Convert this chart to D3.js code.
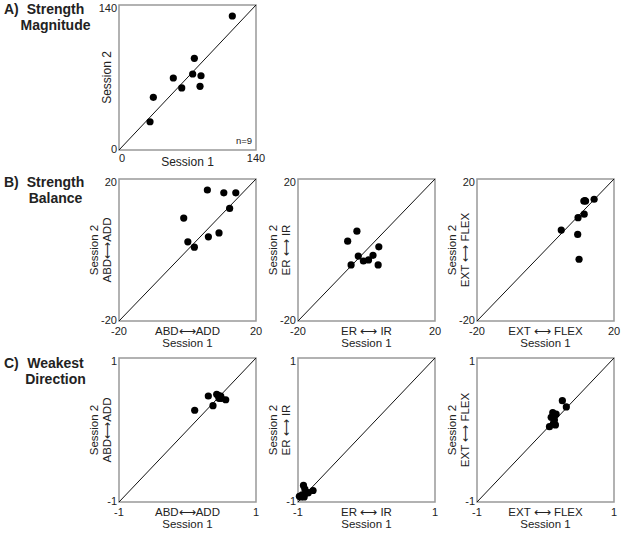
<!DOCTYPE html>
<html><head><meta charset="utf-8">
<script src="https://cdn.jsdelivr.net/npm/d3@7"></script>
<style>body{margin:0;background:#fff}svg{display:block;font-family:"Liberation Sans",Arial,sans-serif}</style>
</head><body><svg id="c" width="625" height="534"></svg>
<script>
// ---- data ----
const magS1 = [115.8, 77, 55.5, 75.3, 83.8, 64.1, 82.8, 35.1, 31.7];
const magS2 = [129.4, 88.5, 69.5, 73.4, 71.7, 59.9, 61.5, 50.9, 27.3];
const balAbdS1 = [5.8, 10.6, 14.1, 12.3, -1.1, 0.1, 2.0, 6.1, 9.2];
const balAbdS2 = [16.9, 16.1, 16.1, 11.7, 9.0, 2.3, 0.8, 3.7, 4.8];
const balErS1 = [-5.5, -2.8, -2.4, -4.5, -0.9, 0.6, 1.9, 3.6, 3.4];
const balErS2 = [2.5, 5.3, -1.7, -4.2, -3.1, -2.8, -1.5, 0.9, -4.2];
const balExtS1 = [14.2, 11.2, 11.7, 11.3, 9.5, 4.6, 9.4, 9.8, 11.5];
const balExtS2 = [14.3, 13.8, 13.8, 10.1, 9.1, 5.6, 4.4, -2.6, 13.9];
const weakAbdS1 = [0.105, 0.304, 0.372, 0.45, 0.485, 0.494, 0.558, 0.46, 0.426];
const weakAbdS2 = [0.274, 0.472, 0.338, 0.48, 0.472, 0.44, 0.42, 0.44, 0.496];
const weakErS1 = [-0.92, -0.98, -0.91, -0.85, -0.78, -0.9, -0.94, -0.88, -0.96];
const weakErS2 = [-0.77, -0.92, -0.93, -0.87, -0.84, -0.82, -0.90, -0.88, -0.93];
const weakExtS1 = [0.246, 0.304, 0.106, 0.155, 0.083, 0.13, 0.145, 0.058, 0.116];
const weakExtS2 = [0.407, 0.32, 0.24, 0.22, 0.176, 0.14, 0.07, 0.046, 0.093];
const magTicks = ["0", "140"];
const balTicks = ["-20", "20"];
const weakTicks = ["-1", "1"];
const rowTitles = [["A)", "Strength", "Magnitude"], ["B)", "Strength", "Balance"], ["C)", "Weakest", "Direction"]];
const dirLabelsX = ["ABD\u27F7ADD", "ER \u27F7 IR", "EXT \u27F7 FLEX"];
const dirLabelsY = ["ABD\u27F7ADD", "ER \u27F7 IR", "EXT \u27F7 FLEX"];

// ---- layout ----
const svg = d3.select("#c");
const ink = "#222";
const colX = [119, 298, 477];
const boxW = 137;
const rows = [{top: 5, h: 145}, {top: 179, h: 142}, {top: 358, h: 144}];

const panels = [
  {col: 0, row: 0, dom: [0, 140], ticks: magTicks, x: magS1, y: magS2, xl: null, yl: null, n: "n=9"},
  {col: 0, row: 1, dom: [-20, 20], ticks: balTicks, x: balAbdS1, y: balAbdS2, xl: dirLabelsX[0], yl: dirLabelsY[0]},
  {col: 1, row: 1, dom: [-20, 20], ticks: balTicks, x: balErS1, y: balErS2, xl: dirLabelsX[1], yl: dirLabelsY[1]},
  {col: 2, row: 1, dom: [-20, 20], ticks: balTicks, x: balExtS1, y: balExtS2, xl: dirLabelsX[2], yl: dirLabelsY[2]},
  {col: 0, row: 2, dom: [-1, 1], ticks: weakTicks, x: weakAbdS1, y: weakAbdS2, xl: dirLabelsX[0], yl: dirLabelsY[0]},
  {col: 1, row: 2, dom: [-1, 1], ticks: weakTicks, x: weakErS1, y: weakErS2, xl: dirLabelsX[1], yl: dirLabelsY[1]},
  {col: 2, row: 2, dom: [-1, 1], ticks: weakTicks, x: weakExtS1, y: weakExtS2, xl: dirLabelsX[2], yl: dirLabelsY[2]}
];

// row titles
rowTitles.forEach((t, i) => {
  const base = [14, 187, 368][i];
  const g = svg.append("g").attr("fill", ink).attr("font-weight", "bold").attr("font-size", 14);
  g.append("text").attr("x", 4).attr("y", base).text(t[0]);
  g.append("text").attr("x", 55.5).attr("y", base).attr("text-anchor", "middle").text(t[1]);
  g.append("text").attr("x", 55.5).attr("y", base + 16).attr("text-anchor", "middle").text(t[2]);
});

panels.forEach(p => {
  const L = colX[p.col], T = rows[p.row].top, H = rows[p.row].h;
  const xs = d3.scaleLinear().domain(p.dom).range([L, L + boxW]);
  const ys = d3.scaleLinear().domain(p.dom).range([T + H, T]);
  const g = svg.append("g");
  g.append("rect").attr("x", L).attr("y", T).attr("width", boxW).attr("height", H)
    .attr("fill", "none").attr("stroke", "#999").attr("stroke-width", 1.5);
  g.append("line").attr("x1", xs(p.dom[0])).attr("y1", ys(p.dom[0]))
    .attr("x2", xs(p.dom[1])).attr("y2", ys(p.dom[1]))
    .attr("stroke", "#111").attr("stroke-width", 1);
  g.selectAll("circle").data(p.x.map((v, i) => [v, p.y[i]])).join("circle")
    .attr("cx", d => xs(d[0])).attr("cy", d => ys(d[1])).attr("r", 3.6).attr("fill", "#000");
  const tg = g.append("g").attr("fill", ink).attr("font-size", 11);
  tg.append("text").attr("x", L - 2).attr("y", ys(p.dom[1]) + 3).attr("dy", "0.35em")
    .attr("text-anchor", "end").text(p.ticks[1]);
  tg.append("text").attr("x", L - 2).attr("y", ys(p.dom[0]) - 1).attr("dy", "0.35em")
    .attr("text-anchor", "end").text(p.ticks[0]);
  const tickY = T + H + (p.row === 0 ? 8 : 10);
  tg.append("text").attr("x", xs(p.dom[0]) + (p.row === 0 ? 3 : 0)).attr("y", tickY).attr("dy", "0.35em")
    .attr("text-anchor", "middle").text(p.ticks[0]);
  tg.append("text").attr("x", xs(p.dom[1])).attr("y", tickY).attr("dy", "0.35em")
    .attr("text-anchor", "middle").text(p.ticks[1]);
  const cx = L + boxW / 2, cy = T + H / 2;
  if (p.row === 0) {
    tg.append("text").attr("x", cx).attr("y", T + H + 12).attr("dy", "0.35em")
      .attr("text-anchor", "middle").attr("font-size", 12).text("Session 1");
    tg.append("text").attr("transform", `translate(${L - 12},${cy}) rotate(-90)`).attr("dy", "0.35em")
      .attr("text-anchor", "middle").attr("font-size", 12).text("Session 2");
    tg.append("text").attr("x", L + boxW - 4).attr("y", T + H - 6).attr("text-anchor", "end")
      .attr("font-size", 9.5).text(p.n);
  } else {
    tg.append("text").attr("x", cx).attr("y", T + H + 14).attr("text-anchor", "middle")
      .attr("font-size", 11.5).text(p.xl);
    tg.append("text").attr("x", cx).attr("y", T + H + 25.5).attr("text-anchor", "middle")
      .attr("font-size", 11.5).text("Session 1");
    tg.append("text").attr("transform", `translate(${L - 25},${cy}) rotate(-90)`).attr("dy", "0.35em")
      .attr("text-anchor", "middle").attr("font-size", 11.5).text("Session 2");
    tg.append("text").attr("transform", `translate(${L - 12},${cy}) rotate(-90)`).attr("dy", "0.35em")
      .attr("text-anchor", "middle").attr("font-size", 11.5).text(p.yl);
  }
});
</script></body></html>
